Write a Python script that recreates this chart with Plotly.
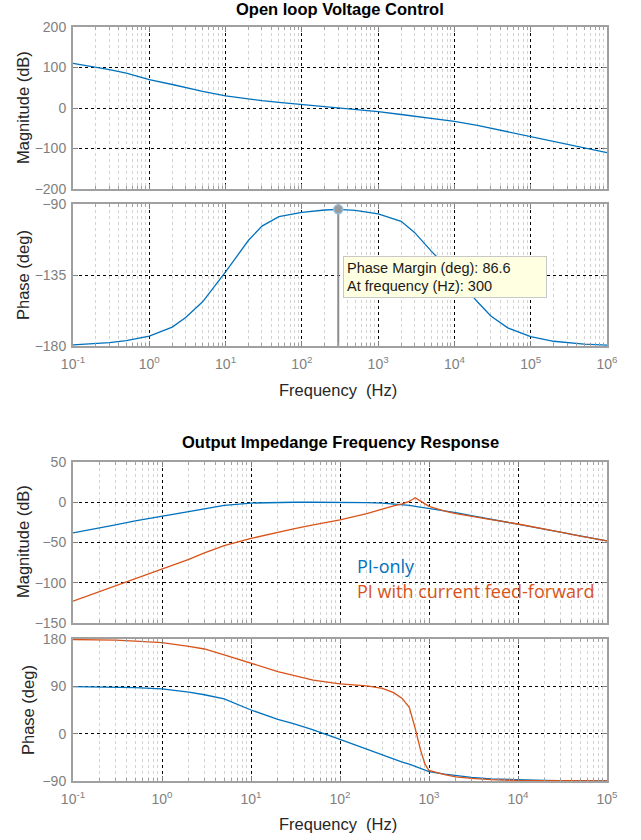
import plotly.graph_objects as go

# ---- Open loop voltage control (Bode) ----
ol_freq = [0.1, 0.2, 0.3, 0.5, 1, 2, 3, 5, 10, 20, 30, 50, 100, 200, 300,
           500, 1000, 2000, 3000, 5000, 1e4, 2e4, 3e4, 5e4, 1e5, 2e5, 3e5, 5e5, 1e6]
ol_mag = [110, 101, 95, 86, 70, 58, 50, 41, 30, 22, 18, 14, 9, 3, 0,
          -4, -9, -16, -20, -26, -33, -43, -50, -59, -71, -83, -90, -99, -110]
ol_phase = [-179.3, -178.5, -177.8, -176.6, -173.7, -168, -162, -152, -133, -113, -104,
            -98, -95.3, -93.8, -93.4, -94, -96.3, -101, -108, -120, -135, -152, -161,
            -168.5, -174, -177, -178, -178.8, -179.4]

pm_freq = 300
pm_deg = 86.6

# ---- Output impedance frequency response ----
zo_freq = [0.1, 0.2, 0.3, 0.5, 1, 2, 3, 5, 10, 20, 30, 50, 100, 200, 300, 400, 500,
           600, 700, 800, 900, 1000, 1500, 2000, 3000, 5000, 1e4, 2e4, 3e4, 5e4, 1e5]
zo_pi_mag = [-38, -32, -28, -23, -17, -11, -8, -4, -1, 0, 0, 0, 0, -0.5, -1, -2, -3,
             -4, -5, -6, -6.5, -7, -10.5, -13, -16.5, -21, -27, -33, -37, -42, -48]
zo_ff_mag = [-123, -111, -104, -95, -83, -71, -63, -54, -45, -37, -33, -28, -22, -14,
             -8, -4.5, -2, 1, 5.5, 2, -2, -5, -11, -14, -17, -21.5, -27, -33, -37, -42, -48]
zo_pi_phase = [89.5, 89, 88.5, 87.5, 85, 79, 74, 66, 45, 27, 19, 7, -11, -30, -40,
               -48, -54, -58, -62, -66, -69, -72, -77, -80, -83, -86, -88, -89, -89.5,
               -89.8, -90]
zo_ff_phase = [179, 178.5, 178, 176, 173, 166, 161, 150, 134, 118, 111, 102, 94.5, 91,
               86, 78, 67, 50, 10, -30, -58, -70, -78, -82, -85, -87.5, -89, -89.6, -89.8,
               -90, -90]

BLUE = "#0072BD"
ORANGE = "#D95319"
FRAME = "#a0a0a0"
TICK_FONT = dict(family="Liberation Sans, Arial, sans-serif", size=14, color="#7f7f7f")
LABEL_FONT = dict(family="Liberation Sans, Arial, sans-serif", size=16.5, color="#262626")
TITLE_FONT = dict(family="Liberation Sans, Arial, sans-serif", size=16.5, color="#000000")

W, H = 641, 840
X0, X1 = 73, 607


def ydom(top_px, bot_px):
    return [1 - bot_px / H, 1 - top_px / H]


def px(x, y):
    return dict(x=x / W, y=1 - y / H, xref="paper", yref="paper", showarrow=False)


def decade_ticks(lo, hi):
    vals = [10.0 ** e for e in range(lo, hi + 1)]
    text = ["10<sup>%d</sup>" % e for e in range(lo, hi + 1)]
    minor = [m * 10.0 ** e for e in range(lo, hi) for m in range(2, 10)]
    return vals, text, minor


def xaxis_cfg(lo, hi, anchor, show_labels):
    vals, text, minor = decade_ticks(lo, hi)
    return dict(
        type="log", range=[lo, hi], domain=[X0 / W, X1 / W], anchor=anchor,
        automargin=False,
        tickmode="array", tickvals=vals, ticktext=text, showticklabels=show_labels,
        tickfont=TICK_FONT, ticks="inside", ticklen=5, tickcolor="#808080",
        ticklabelstandoff=4,
        showline=True, linecolor=FRAME, linewidth=2, mirror="ticks",
        showgrid=True, gridcolor="#000000", griddash="dot", gridwidth=1,
        zeroline=False,
        minor=dict(tickmode="array", tickvals=minor, showgrid=True,
                   gridcolor="#d2d2d2", griddash="dot", gridwidth=1,
                   ticks="inside", ticklen=3, tickcolor="#a0a0a0"),
    )


def yaxis_cfg(rng, vals, dom, anchor):
    return dict(
        range=rng, domain=dom, anchor=anchor, tickmode="array", tickvals=vals,
        automargin=False,
        tickfont=TICK_FONT, ticks="inside", ticklen=5, tickcolor="#808080",
        ticklabelstandoff=2,
        showline=True, linecolor=FRAME, linewidth=2, mirror="ticks",
        showgrid=True, gridcolor="#000000", griddash="dot", gridwidth=1,
        zeroline=False,
    )


fig = go.Figure()

# open loop magnitude / phase
fig.add_trace(go.Scatter(x=ol_freq, y=ol_mag, mode="lines",
                         line=dict(color=BLUE, width=1.3), xaxis="x", yaxis="y"))
fig.add_trace(go.Scatter(x=ol_freq, y=ol_phase, mode="lines",
                         line=dict(color=BLUE, width=1.3), xaxis="x2", yaxis="y2"))

# phase margin marker and drop line
pm_phase = pm_deg - 180
fig.add_trace(go.Scatter(x=[pm_freq, pm_freq], y=[-180, pm_phase], mode="lines",
                         line=dict(color="#8c8c8c", width=2), xaxis="x2", yaxis="y2"))
fig.add_trace(go.Scatter(x=[pm_freq], y=[pm_phase], mode="markers",
                         marker=dict(symbol="circle", size=9, color="#9a9a9a",
                                     line=dict(color="#8fc0e6", width=1.5)),
                         xaxis="x2", yaxis="y2"))

# output impedance magnitude / phase
fig.add_trace(go.Scatter(x=zo_freq, y=zo_pi_mag, mode="lines",
                         line=dict(color=BLUE, width=1.3), xaxis="x3", yaxis="y3"))
fig.add_trace(go.Scatter(x=zo_freq, y=zo_ff_mag, mode="lines",
                         line=dict(color=ORANGE, width=1.3), xaxis="x3", yaxis="y3"))
fig.add_trace(go.Scatter(x=zo_freq, y=zo_pi_phase, mode="lines",
                         line=dict(color=BLUE, width=1.3), xaxis="x4", yaxis="y4"))
fig.add_trace(go.Scatter(x=zo_freq, y=zo_ff_phase, mode="lines",
                         line=dict(color=ORANGE, width=1.3), xaxis="x4", yaxis="y4"))

mid = dict(xanchor="center", yanchor="middle")
annotations = [
    dict(text="<b>Open loop Voltage Control</b>", font=TITLE_FONT, **mid,
         **px(0.5 * (X0 + X1), 9)),
    dict(text="<b>Output Impedange Frequency Response</b>", font=TITLE_FONT, **mid,
         **px(0.5 * (X0 + X1), 442)),
    dict(text="Magnitude (dB)", textangle=-90, font=LABEL_FONT, **mid, **px(23, 108)),
    dict(text="Phase (deg)", textangle=-90, font=LABEL_FONT, **mid, **px(23, 275)),
    dict(text="Frequency  (Hz)", font=LABEL_FONT, **mid, **px(338, 390)),
    dict(text="Magnitude (dB)", textangle=-90, font=LABEL_FONT, **mid, **px(23, 542)),
    dict(text="Phase (deg)", textangle=-90, font=LABEL_FONT, **mid, **px(28, 710)),
    dict(text="Frequency  (Hz)", font=LABEL_FONT, **mid, **px(338, 824)),
    # phase margin data tip
    dict(text="Phase Margin (deg): %g<br>At frequency (Hz): %g" % (pm_deg, pm_freq),
         xanchor="left", yanchor="top", align="left", width=196, height=34,
         borderpad=3, bgcolor="#ffffe1", bordercolor="#c8c8c8", borderwidth=1,
         font=dict(family="Liberation Sans, Arial, sans-serif", size=14.5, color="#1a1a1a"),
         **px(343, 256)),
    # series labels
    dict(text="PI-only", xanchor="left", yanchor="middle",
         font=dict(family="Open Sans, Noto Sans, sans-serif", size=18, color=BLUE),
         **px(355, 566)),
    dict(text="PI with current feed-forward", xanchor="left", yanchor="middle",
         font=dict(family="Open Sans, Noto Sans, sans-serif", size=18, color=ORANGE),
         **px(355, 591)),
]

fig.update_layout(
    width=W, height=H, margin=dict(l=0, r=0, t=0, b=0, autoexpand=False),
    paper_bgcolor="white", plot_bgcolor="white", showlegend=False,
    xaxis=xaxis_cfg(-1, 6, "y", False),
    yaxis=yaxis_cfg([-200, 200], [-200, -100, 0, 100, 200], ydom(27, 189), "x"),
    xaxis2=xaxis_cfg(-1, 6, "y2", True),
    yaxis2=yaxis_cfg([-180, -90], [-180, -135, -90], ydom(204, 346), "x2"),
    xaxis3=xaxis_cfg(-1, 5, "y3", False),
    yaxis3=yaxis_cfg([-150, 50], [-150, -100, -50, 0, 50], ydom(462, 623), "x3"),
    xaxis4=xaxis_cfg(-1, 5, "y4", True),
    yaxis4=yaxis_cfg([-90, 180], [-90, 0, 90, 180], ydom(639, 781), "x4"),
    annotations=annotations,
)

fig.write_html("out.html")
